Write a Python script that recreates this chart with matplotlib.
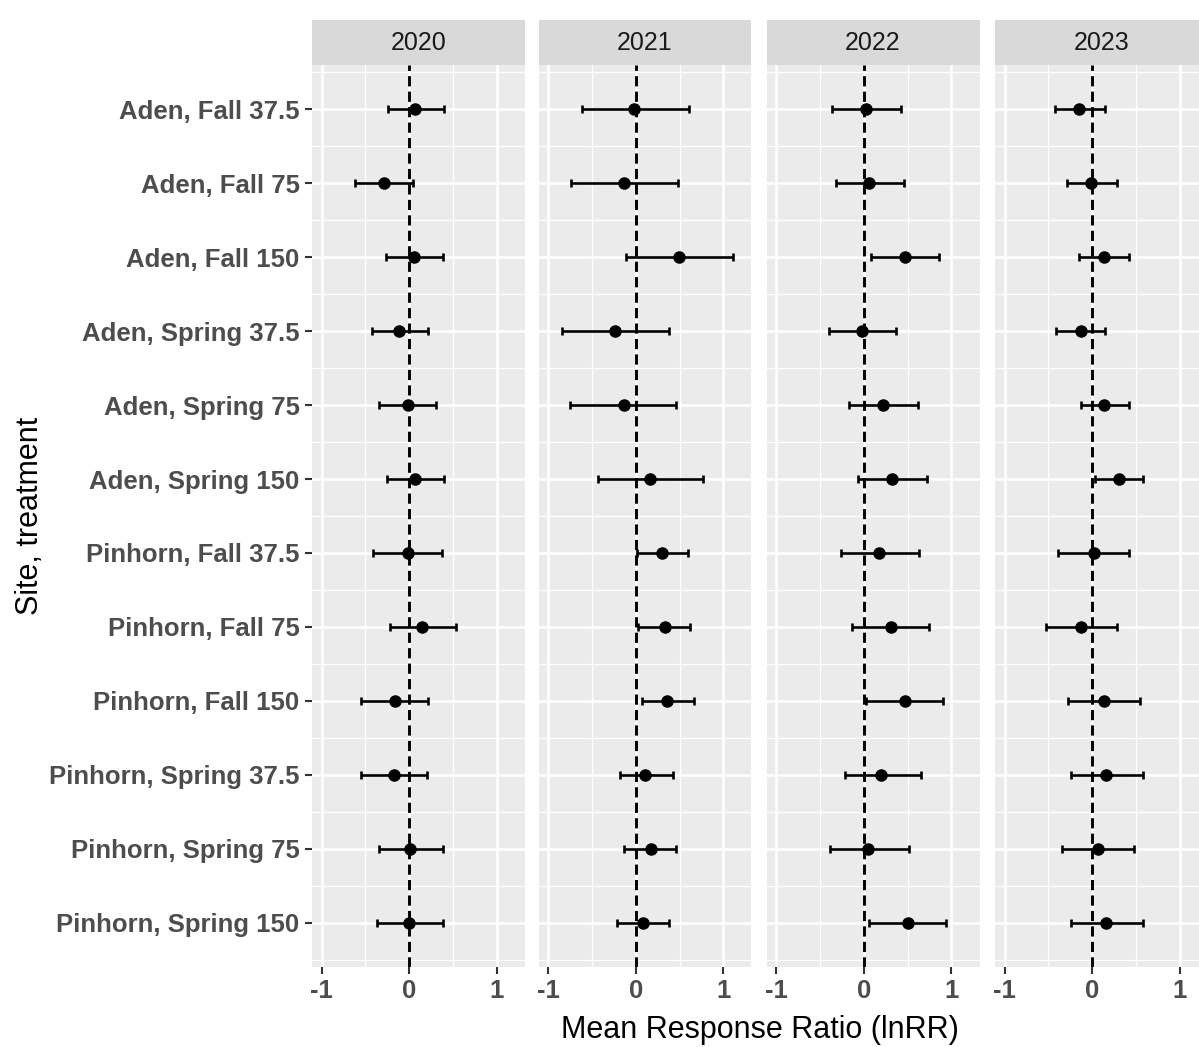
import numpy as np
import matplotlib
matplotlib.use("Agg")
import matplotlib.pyplot as plt
from matplotlib.ticker import FixedLocator

plt.rcParams['font.family'] = ['Liberation Sans', 'DejaVu Sans']

# --- data ---
treatments = ["Aden, Fall 37.5", "Aden, Fall 75", "Aden, Fall 150",
              "Aden, Spring 37.5", "Aden, Spring 75", "Aden, Spring 150",
              "Pinhorn, Fall 37.5", "Pinhorn, Fall 75", "Pinhorn, Fall 150",
              "Pinhorn, Spring 37.5", "Pinhorn, Spring 75", "Pinhorn, Spring 150"]
years = ["2020", "2021", "2022", "2023"]

mean_2020 = [0.06, -0.29, 0.05, -0.12, -0.02, 0.06, -0.02, 0.14, -0.16, -0.17, 0.01, 0.00]
lower_2020 = [-0.24, -0.62, -0.27, -0.43, -0.34, -0.25, -0.41, -0.22, -0.55, -0.55, -0.35, -0.37]
upper_2020 = [0.40, 0.04, 0.38, 0.21, 0.31, 0.40, 0.37, 0.53, 0.21, 0.20, 0.39, 0.38]

mean_2021 = [-0.02, -0.13, 0.49, -0.24, -0.14, 0.16, 0.30, 0.33, 0.36, 0.11, 0.17, 0.08]
lower_2021 = [-0.61, -0.74, -0.11, -0.84, -0.75, -0.43, 0.01, 0.03, 0.07, -0.18, -0.13, -0.21]
upper_2021 = [0.61, 0.48, 1.11, 0.38, 0.46, 0.77, 0.59, 0.62, 0.66, 0.42, 0.46, 0.38]

mean_2022 = [0.02, 0.06, 0.47, -0.02, 0.22, 0.32, 0.17, 0.31, 0.47, 0.20, 0.05, 0.50]
lower_2022 = [-0.36, -0.32, 0.08, -0.40, -0.17, -0.07, -0.26, -0.13, 0.03, -0.22, -0.38, 0.06]
upper_2022 = [0.42, 0.46, 0.86, 0.37, 0.62, 0.72, 0.63, 0.74, 0.90, 0.65, 0.51, 0.94]

mean_2023 = [-0.15, -0.02, 0.13, -0.13, 0.13, 0.30, 0.02, -0.13, 0.13, 0.16, 0.06, 0.16]
lower_2023 = [-0.43, -0.29, -0.15, -0.41, -0.13, 0.03, -0.39, -0.53, -0.28, -0.24, -0.34, -0.24]
upper_2023 = [0.14, 0.28, 0.42, 0.15, 0.42, 0.58, 0.42, 0.28, 0.54, 0.58, 0.48, 0.58]

means = [mean_2020, mean_2021, mean_2022, mean_2023]
lowers = [lower_2020, lower_2021, lower_2022, lower_2023]
uppers = [upper_2020, upper_2021, upper_2022, upper_2023]

# --- layout (pixels) ---
W, H = 1199, 1047
fig = plt.figure(figsize=(W / 100, H / 100), dpi=100)
fig.patch.set_facecolor("white")

panel_left = [312, 538.5, 766.5, 995]
panel_w = 213
panel_top, panel_bot = 65, 967
strip_top = 20

y = np.arange(len(treatments))

for i, yr in enumerate(years):
    l = panel_left[i]
    ax = fig.add_axes([l / W, 1 - panel_bot / H, panel_w / W, (panel_bot - panel_top) / H])
    ax.set_facecolor("#EBEBEB")
    for s in ax.spines.values():
        s.set_visible(False)

    ax.set_xlim(-1.11, 1.32)
    ax.set_ylim(len(treatments) - 0.4, -0.6)
    ax.set_xticks([-1, 0, 1])
    ax.set_xticklabels(["-1", "0", "1"])
    ax.xaxis.set_minor_locator(FixedLocator([-0.5, 0.5]))
    ax.set_yticks(y)
    ax.yaxis.set_minor_locator(FixedLocator(np.arange(-0.5, len(treatments), 1.0)))

    ax.grid(True, which="major", color="white", lw=1.8)
    ax.grid(True, which="minor", color="white", lw=0.9)
    ax.set_axisbelow(True)
    ax.tick_params(which="minor", length=0)
    ax.tick_params(which="major", color="#333333", width=1.5, length=5,
                   labelsize=18.5, labelcolor="#4D4D4D", pad=4)
    if i == 0:
        ax.set_yticklabels(treatments)
    else:
        ax.set_yticklabels([])
        ax.tick_params(axis="y", which="major", length=0)
    for lab in ax.get_xticklabels() + ax.get_yticklabels():
        lab.set_fontweight("bold")

    ax.axvline(0, color="black", lw=2.1, ls=(0, (3.5, 1.8)), zorder=2)

    m = np.array(means[i])
    lo = np.array(lowers[i])
    hi = np.array(uppers[i])
    ax.errorbar(m, y, xerr=[m - lo, hi - m], fmt="o", color="black",
                ms=8, elinewidth=1.9, capsize=2.6, capthick=1.9, zorder=3)

    # facet strip
    sax = fig.add_axes([l / W, 1 - panel_top / H, panel_w / W, (panel_top - strip_top) / H])
    sax.set_facecolor("#D9D9D9")
    sax.set_xticks([])
    sax.set_yticks([])
    for s in sax.spines.values():
        s.set_visible(False)
    sax.text(0.5, 0.5, yr, ha="center", va="center", fontsize=18,
             color="#1A1A1A", transform=sax.transAxes)

fig.text(760 / W, 1 - 1030 / H, "Mean Response Ratio (lnRR)", ha="center",
         va="center", fontsize=22, color="black")
fig.text(30 / W, 1 - 516 / H, "Site, treatment", ha="center", va="center",
         rotation=90, fontsize=22, color="black")

fig.savefig("out.png", dpi=100)
